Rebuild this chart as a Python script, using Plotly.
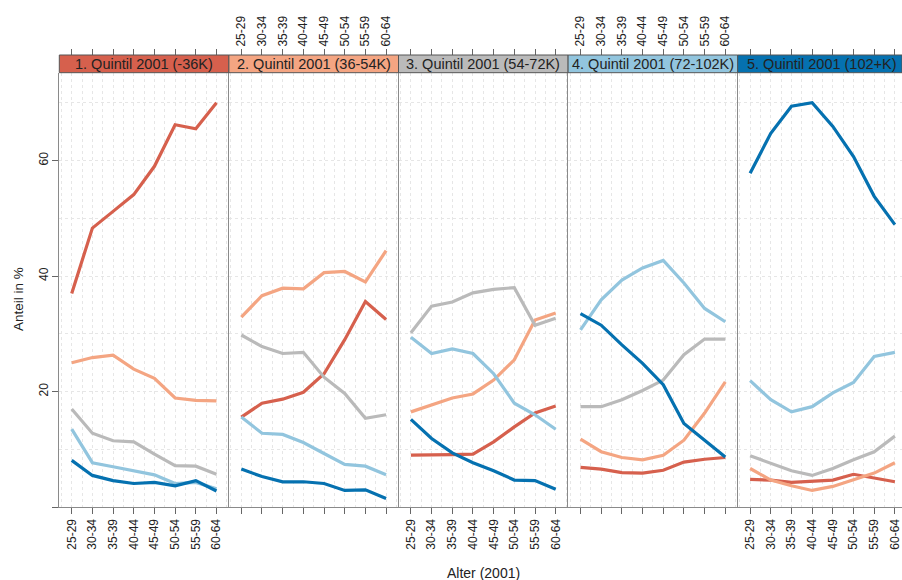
import plotly.graph_objects as go

# ---------------- data ----------------
age_groups = ["25-29", "30-34", "35-39", "40-44", "45-49", "50-54", "55-59", "60-64"]
panel_titles = ["1. Quintil 2001 (-36K)", "2. Quintil 2001 (36-54K)", "3. Quintil 2001 (54-72K)",
                "4. Quintil 2001 (72-102K)", "5. Quintil 2001 (102+K)"]
quintile_colors = ["#d6604d", "#f4a582", "#bababa", "#92c5de", "#0571b0"]
y_ticks = [0, 20, 40, 60]
y_ticktext = ["", "20", "40", "60"]

p1_q1 = [37.0, 48.3, 51.2, 54.1, 59.0, 66.2, 65.5, 70.0]
p1_q2 = [25.0, 25.9, 26.3, 23.9, 22.3, 18.9, 18.5, 18.4]
p1_q3 = [17.0, 12.8, 11.5, 11.3, 9.2, 7.2, 7.1, 5.7]
p1_q4 = [13.5, 7.7, 7.0, 6.3, 5.6, 4.1, 4.3, 3.2]
p1_q5 = [8.1, 5.5, 4.6, 4.1, 4.3, 3.7, 4.6, 2.8]

p2_q1 = [15.6, 18.0, 18.7, 19.9, 23.1, 29.0, 35.6, 32.5]
p2_q2 = [32.9, 36.6, 37.9, 37.8, 40.6, 40.8, 39.0, 44.4]
p2_q3 = [29.8, 27.8, 26.6, 26.8, 22.5, 19.7, 15.4, 16.0]
p2_q4 = [15.6, 12.8, 12.6, 11.2, 9.3, 7.4, 7.1, 5.6]
p2_q5 = [6.6, 5.3, 4.4, 4.4, 4.1, 2.9, 3.0, 1.5]

p3_q1 = [9.0, 9.0, 9.1, 9.2, 11.3, 13.9, 16.3, 17.5]
p3_q2 = [16.5, 17.7, 18.9, 19.6, 22.0, 25.5, 32.4, 33.6]
p3_q3 = [30.2, 34.8, 35.5, 37.1, 37.7, 38.0, 31.5, 32.7]
p3_q4 = [29.4, 26.6, 27.4, 26.6, 23.1, 18.0, 16.0, 13.5]
p3_q5 = [15.2, 11.9, 9.4, 7.7, 6.3, 4.7, 4.6, 3.1]

p4_q1 = [6.9, 6.6, 6.0, 5.9, 6.4, 7.8, 8.3, 8.6]
p4_q2 = [11.8, 9.6, 8.6, 8.2, 9.0, 11.6, 16.3, 21.7]
p4_q3 = [17.4, 17.4, 18.6, 20.2, 22.0, 26.4, 29.1, 29.1]
p4_q4 = [30.7, 35.9, 39.3, 41.4, 42.7, 38.8, 34.4, 32.1]
p4_q5 = [33.5, 31.5, 28.1, 24.9, 21.2, 14.5, 11.6, 8.7]

p5_q1 = [4.8, 4.7, 4.3, 4.5, 4.7, 5.7, 5.0, 4.4]
p5_q2 = [6.7, 4.7, 3.7, 2.9, 3.6, 4.7, 5.9, 7.7]
p5_q3 = [8.9, 7.6, 6.3, 5.5, 6.7, 8.2, 9.6, 12.3]
p5_q4 = [21.9, 18.6, 16.5, 17.4, 19.8, 21.6, 26.1, 26.8]
p5_q5 = [57.8, 64.7, 69.4, 70.0, 65.9, 60.7, 53.8, 48.9]

panels = [
    [p1_q1, p1_q2, p1_q3, p1_q4, p1_q5],
    [p2_q1, p2_q2, p2_q3, p2_q4, p2_q5],
    [p3_q1, p3_q2, p3_q3, p3_q4, p3_q5],
    [p4_q1, p4_q2, p4_q3, p4_q4, p4_q5],
    [p5_q1, p5_q2, p5_q3, p5_q4, p5_q5],
]

# ---------------- layout geometry ----------------
W, H = 902, 580
FONT = "Liberation Sans, Arial, sans-serif"
panel_left = 59.3
panel_w = 169.6
plot_top_px, plot_bot_px = 72.7, 507.2
strip_top_px = 55.0
xpad = 0.6
n = len(age_groups)
px_per_unit = panel_w / (n - 1 + 2 * xpad)

ydom = [1 - plot_bot_px / H, 1 - plot_top_px / H]
strip_top = 1 - strip_top_px / H
grid_col = "#e6e6e6"
line_col = "#8a8a8a"
tick_col = "#666666"

xs = list(range(n))
fig = go.Figure()
layout = dict(
    width=W, height=H, margin=dict(l=0, r=0, t=0, b=0),
    paper_bgcolor="white", plot_bgcolor="white", showlegend=False,
    font=dict(family=FONT, size=12, color="#222222"),
    shapes=[], annotations=[],
)

for i, series in enumerate(panels):
    k = "" if i == 0 else str(i + 1)
    left_px = panel_left + i * panel_w
    right_px = min(left_px + panel_w, W)
    dom = [left_px / W, right_px / W]
    xr = [-xpad, -xpad + (right_px - left_px) / px_per_unit]

    for q, vals in enumerate(series):
        fig.add_trace(go.Scatter(
            x=xs, y=vals, mode="lines", xaxis="x" + k, yaxis="y" + k,
            line=dict(color=quintile_colors[q], width=3.2), hoverinfo="skip"))

    layout["xaxis" + k] = dict(
        domain=dom, range=xr, anchor="y" + k, automargin=False,
        tickvals=xs, ticktext=age_groups, showticklabels=(i % 2 == 0),
        tickangle=-90, ticks="outside", ticklen=6, tickcolor=tick_col,
        tickfont=dict(size=12, color="#222222"),
        showline=True, linecolor=line_col, linewidth=1, zeroline=False,
        showgrid=True, gridcolor=grid_col, griddash="dot", gridwidth=1,
        minor=dict(tickvals=[v + 0.5 for v in range(-1, n)], showgrid=True,
                   gridcolor=grid_col, griddash="dot", ticks=""),
    )
    layout["yaxis" + k] = dict(
        domain=ydom, range=[0, 75.2], anchor="x" + k, automargin=False,
        tickvals=y_ticks, ticktext=y_ticktext, showticklabels=(i == 0),
        ticks="outside" if i == 0 else "", ticklen=6, tickcolor=tick_col,
        tickangle=-90, tickfont=dict(size=12, color="#222222"),
        showline=True, linecolor=line_col, linewidth=1, zeroline=False,
        showgrid=True, gridcolor=grid_col, griddash="dot", gridwidth=1,
        minor=dict(tickvals=[10, 30, 50, 70], showgrid=True,
                   gridcolor=grid_col, griddash="dot", ticks=""),
    )

    # top axis (ticks above strip)
    tk = str(i + 6)
    fig.add_trace(go.Scatter(x=xs, y=[None] * n, mode="lines",
                             xaxis="x" + tk, yaxis="y" + k, hoverinfo="skip"))
    layout["xaxis" + tk] = dict(
        overlaying="x" + k, anchor="free", position=strip_top, side="top",
        range=xr, automargin=False,
        tickvals=xs, ticktext=age_groups, showticklabels=(i % 2 == 1),
        tickangle=-90, ticks="outside", ticklen=6, tickcolor=tick_col,
        tickfont=dict(size=12, color="#222222"),
        showline=False, showgrid=False, zeroline=False,
    )

    # strip
    layout["shapes"].append(dict(
        type="rect", xref="paper", yref="paper",
        x0=dom[0], x1=dom[1], y0=ydom[1], y1=strip_top,
        fillcolor=quintile_colors[i], line=dict(color="#555555", width=1), layer="above"))
    layout["annotations"].append(dict(
        text=panel_titles[i], xref="paper", yref="paper",
        x=(left_px + panel_w / 2) / W, y=(ydom[1] + strip_top) / 2,
        xanchor="center", yanchor="middle", showarrow=False,
        font=dict(size=14.5, color="#222222")))

layout["annotations"].append(dict(
    text="Anteil in %", xref="paper", yref="paper", x=18 / W, y=1 - 299 / H,
    textangle=-90, showarrow=False, xanchor="center", yanchor="middle",
    font=dict(size=13.5, color="#222222")))
layout["annotations"].append(dict(
    text="Alter (2001)", xref="paper", yref="paper", x=483 / W, y=1 - 573 / H,
    showarrow=False, xanchor="center", yanchor="middle",
    font=dict(size=14, color="#222222")))

fig.update_layout(**layout)
fig.write_html(
    "out.html",
    config={"displayModeBar": False},
    post_script="document.body.style.margin='0';document.body.style.overflow='hidden';",
)
